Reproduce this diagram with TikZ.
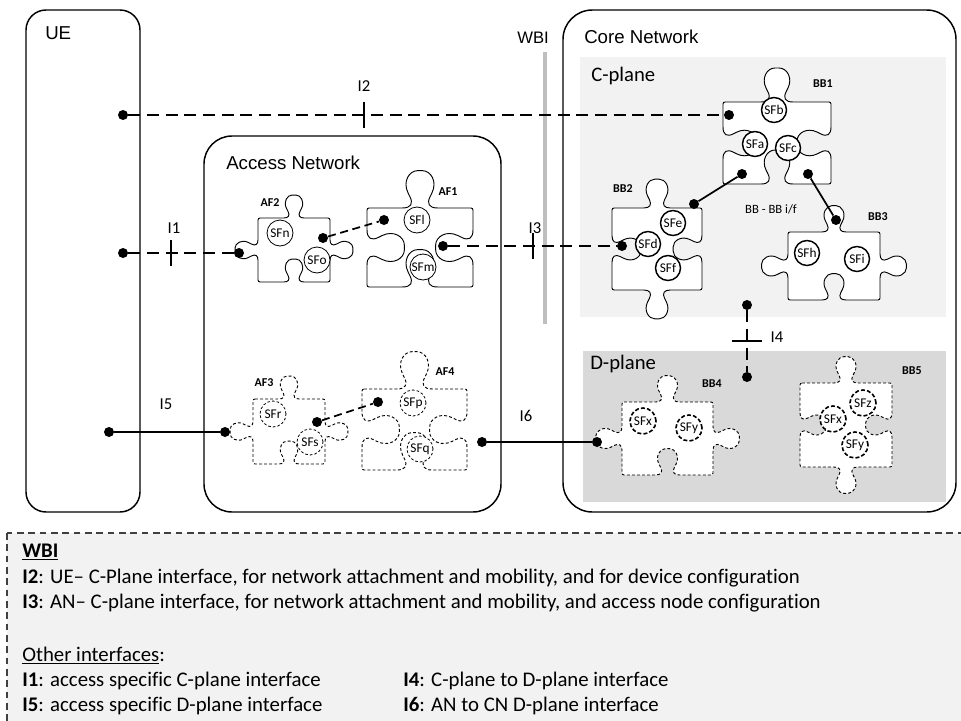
\documentclass[tikz,border=0pt]{standalone}
\usepackage{fontspec}
\setmainfont{Carlito}[Ligatures={NoCommon}]
\newfontfamily\arialf{Liberation Sans}
\usetikzlibrary{calc}
\definecolor{cpl}{HTML}{F2F2F2}
\definecolor{dpl}{HTML}{D9D9D9}
\definecolor{wbic}{HTML}{BFBFBF}
\definecolor{lgc}{HTML}{F2F2F2}
\def\pzgeo#1/#2/#3/#4/#5\relax{\def\pX{#1}\def\pY{#2}\def\pW{#3}\def\pH{#4}\def\pK{#5}}
\def\pztyp#1/#2/#3/#4\relax{\def\tT{#1}\def\tR{#2}\def\tB{#3}\def\tL{#4}}
\def\pzs#1#2#3#4#5#6{%
 -- ({#1-0.45*(#3)},{#2-0.45*(#4)})%
 .. controls ({#1-0.2*(#3)},{#2-0.2*(#4)}) and ({#1-0.15*(#3)+0.1*(#5)},{#2-0.15*(#4)+0.1*(#6)})%
 .. ({#1-0.25*(#3)+0.3*(#5)},{#2-0.25*(#4)+0.3*(#6)})%
 .. controls ({#1-0.4*(#3)+0.6*(#5)},{#2-0.4*(#4)+0.6*(#6)}) and ({#1-0.25*(#3)+0.85*(#5)},{#2-0.25*(#4)+0.85*(#6)})%
 .. ({#1+0.85*(#5)},{#2+0.85*(#6)})%
 .. controls ({#1+0.25*(#3)+0.85*(#5)},{#2+0.25*(#4)+0.85*(#6)}) and ({#1+0.4*(#3)+0.6*(#5)},{#2+0.4*(#4)+0.6*(#6)})%
 .. ({#1+0.25*(#3)+0.3*(#5)},{#2+0.25*(#4)+0.3*(#6)})%
 .. controls ({#1+0.15*(#3)+0.1*(#5)},{#2+0.15*(#4)+0.1*(#6)}) and ({#1+0.2*(#3)},{#2+0.2*(#4)})%
 .. ({#1+0.45*(#3)},{#2+0.45*(#4)})%
}
\newcommand\puzzle[3]{\pzgeo#2\relax\pztyp#3\relax
 \draw[#1] (\pX,\pY)
  \pzs{\pX+\pW/2}{\pY}{\pK}{0}{0}{-(\pK)*(\tT)}
  -- (\pX+\pW,\pY)
  \pzs{\pX+\pW}{\pY+\pH/2}{0}{\pK}{(\pK)*(\tR)}{0}
  -- (\pX+\pW,\pY+\pH)
  \pzs{\pX+\pW/2}{\pY+\pH}{-(\pK)}{0}{0}{(\pK)*(\tB)}
  -- (\pX,\pY+\pH)
  \pzs{\pX}{\pY+\pH/2}{0}{-(\pK)}{-(\pK)*(\tL)}{0}
  -- cycle;}
\begin{document}
\begin{tikzpicture}[x=0.75pt,y=-0.75pt,
  box/.style={draw=black, line width=1.1pt},
  piece/.style={draw=black, fill=white, line width=0.7pt, rounded corners=1.5pt},
  dpiece/.style={piece, dash pattern=on 2.2pt off 1.6pt},
  sfa/.style={circle, draw, fill=white, line width=0.6pt, inner sep=0pt, minimum size=19.5pt, font=\fontsize{10}{11}\selectfont},
  sfb/.style={sfa, line width=1.1pt, minimum size=18.75pt},
  sfdash/.style={sfa, dash pattern=on 2pt off 1.5pt},
  sfd/.style={sfa, line width=1.2pt, dash pattern=on 3pt off 1.6pt},
  dot/.style={circle, fill=black, inner sep=0pt, minimum size=7.5pt},
  ifd/.style={line width=1.5pt, dash pattern=on 9pt off 5pt},
  ifs/.style={line width=1.3pt},
  afd/.style={line width=1.3pt, dash pattern=on 6pt off 3.5pt},
  tickline/.style={line width=1.3pt},
  ilab/.style={anchor=base, inner sep=0pt, font=\fontsize{12.5}{14}\selectfont},
  plab/.style={inner sep=0pt, font=\bfseries\fontsize{9}{10}\selectfont},
  big/.style={anchor=base west, inner sep=0pt, font=\arialf\fontsize{14}{16}\selectfont},
  plane/.style={anchor=base west, inner sep=0pt, font=\fontsize{15.5}{18}\selectfont},
  leg/.style={anchor=base west, inner sep=0pt, font=\fontsize{15.6}{19}\selectfont}]
\useasboundingbox (0,0) rectangle (961,721);
% legend box
\draw[fill=lgc, draw=black!75, line width=0.8pt, dash pattern=on 5pt off 3.5pt] (7,533) rectangle (975,735);
% main boxes
\draw[box, rounded corners=15pt] (26,10) rectangle (140,512);
\draw[box, rounded corners=21pt] (204,136) rectangle (501,512);
\draw[box, rounded corners=22pt] (563,10) rectangle (956,512);
\fill[cpl] (580,57) rectangle (946,317);
\fill[dpl] (583,351) rectangle (946,502);
\draw[wbic, line width=3pt] (545,52) -- (545,324);
% titles
\node[big] (ue) at (45,40) {UE};
\node[big] (an) at (226,169) {Access Network};
\node[big] (cn) at (584,43) {Core Network};
\node[big, font=\arialf\fontsize{12.5}{14}\selectfont] (wbi) at (517,43) {WBI};
\node[plane] (cp) at (591,81) {C-plane};
\node[plane] (dp) at (590,369) {D-plane};
% puzzle pieces
\puzzle{piece}{258/218/72/64/27}{1/1/-1/1}
\puzzle{piece}{367/208/106/79/44}{1/-1/-1/-1}
\puzzle{dpiece}{253/399/72/65/27}{1/1/-1/1}
\puzzle{dpiece}{362/389/105/81/44}{1/-1/-1/-1}
\puzzle{piece}{723/102/108/82/40}{1/-1/-1/-1}
\puzzle{piece}{612/208/90/82/34}{1/-1/1/-1}
\puzzle{piece}{788/232/92/68/31}{1/1/-1/1}
\puzzle{dpiece}{622/402/91/73/31}{1/1/-1/1}
\puzzle{dpiece}{800/383/92/84/31}{1/-1/1/-1}
% piece labels
\node[plab] (af2) at (270,203) {AF2};
\node[plab] (af1) at (448,192) {AF1};
\node[plab] (af3) at (264,383) {AF3};
\node[plab] (af4) at (445,372) {AF4};
\node[plab] (bb1) at (823,84) {BB1};
\node[plab] (bb2) at (623,189) {BB2};
\node[plab] (bb3) at (878,217) {BB3};
\node[plab] (bb4) at (712,384) {BB4};
\node[plab] (bb5) at (912,371) {BB5};
\node[inner sep=0pt, font=\fontsize{9.5}{10}\selectfont] (bbif) at (771,209) {BB - BB i/f};
% service functions
\node[sfa] (sfn) at (280,233) {SFn};
\node[sfa] (sfo) at (317,260) {SFo};
\node[sfa] (sfl) at (417,220) {SFl};
\node[sfa] (sfm) at (423,267) {SFm};
\node[sfdash] (sfr) at (273,414) {SFr};
\node[sfdash] (sfs) at (310,442) {SFs};
\node[sfdash] (sfp) at (413,403) {SFp};
\node[sfdash] (sfq) at (420,449) {SFq};
\node[sfb] (sfb) at (774,110) {SFb};
\node[sfb] (sfa) at (755,144) {SFa};
\node[sfb] (sfc) at (788,148) {SFc};
\node[sfb] (sfe) at (673,223) {SFe};
\node[sfb] (sfd) at (648,244) {SFd};
\node[sfb] (sff) at (668,268) {SFf};
\node[sfb] (sfh) at (807,253) {SFh};
\node[sfb] (sfi) at (857,259) {SFi};
\node[sfd] (sfx4) at (643,421) {SFx};
\node[sfd] (sfy4) at (689,428) {SFy};
\node[sfd] (sfz5) at (863,403) {SFz};
\node[sfd] (sfx5) at (833,419) {SFx};
\node[sfd] (sfy5) at (855,445) {SFy};
% dots
\node[dot] (d2a) at (123,115) {};
\node[dot] (d2b) at (729,115) {};
\node[dot] (d1a) at (123,253) {};
\node[dot] (d1b) at (239,253) {};
\node[dot] (d3a) at (443,246) {};
\node[dot] (d3b) at (622,246) {};
\node[dot] (daf2) at (323,238) {};
\node[dot] (daf1) at (384,220) {};
\node[dot] (db1l) at (742,174) {};
\node[dot] (db2) at (694,204) {};
\node[dot] (db1r) at (808,174) {};
\node[dot] (db3) at (836,220) {};
\node[dot] (d4a) at (747,305) {};
\node[dot] (d4b) at (747,377) {};
\node[dot] (d5a) at (109,432) {};
\node[dot] (d5b) at (225,432) {};
\node[dot] (daf3) at (317,422) {};
\node[dot] (daf4) at (378,402) {};
\node[dot] (d6a) at (482,442) {};
\node[dot] (d6b) at (597,442) {};
% connectors
\draw[ifd] (d2a) -- (d2b);
\draw[ifd] (d1a) -- (d1b);
\draw[ifd] (d3a) -- (d3b);
\draw[afd] (daf2) -- (daf1);
\draw[afd] (daf3) -- (daf4);
\draw[ifs] (db1l) -- (db2);
\draw[ifs] (db1r) -- (db3);
\draw[ifd] (d4a) -- (d4b);
\draw[ifs] (d5a) -- (d5b);
\draw[ifs] (d6a) -- (d6b);
% ticks
\coordinate (t2) at (364,115);
\coordinate (t1) at (171,253);
\coordinate (t3) at (533,246);
\coordinate (t4) at (747,341);
\draw[tickline] ($(t2)+(0,-13)$) -- ($(t2)+(0,13)$);
\draw[tickline] ($(t1)+(0,-13)$) -- ($(t1)+(0,13)$);
\draw[tickline] ($(t3)+(0,-13)$) -- ($(t3)+(0,13)$);
\draw[tickline] ($(t4)+(-15,0)$) -- ($(t4)+(15,0)$);
% interface labels
\node[ilab] (i2) at (364,91) {I2};
\node[ilab] (i1) at (174,233) {I1};
\node[ilab] (i3) at (535,233) {I3};
\node[ilab] (i4) at (777,342) {I4};
\node[ilab] (i5) at (166,409) {I5};
\node[ilab] (i6) at (526,421) {I6};
% legend
\node[leg] (lw) at (22,557) {\textbf{\underline{WBI}}};
\node[leg] (l2) at (22,583) {\textbf{I2}: UE– C-Plane interface, for network attachment and mobility, and for device configuration};
\node[leg] (l3) at (22,608) {\textbf{I3}: AN– C-plane interface, for network attachment and mobility, and access node configuration};
\node[leg] (lo) at (22,661) {\underline{Other interfaces}:};
\node[leg] (l1) at (22,686) {\textbf{I1}: access specific C-plane interface};
\node[leg] (l5) at (22,711) {\textbf{I5}: access specific D-plane interface};
\node[leg] (l4) at (403,686) {\textbf{I4}: C-plane to D-plane interface};
\node[leg] (l6) at (403,711) {\textbf{I6}: AN to CN D-plane interface};
\end{tikzpicture}
\end{document}
